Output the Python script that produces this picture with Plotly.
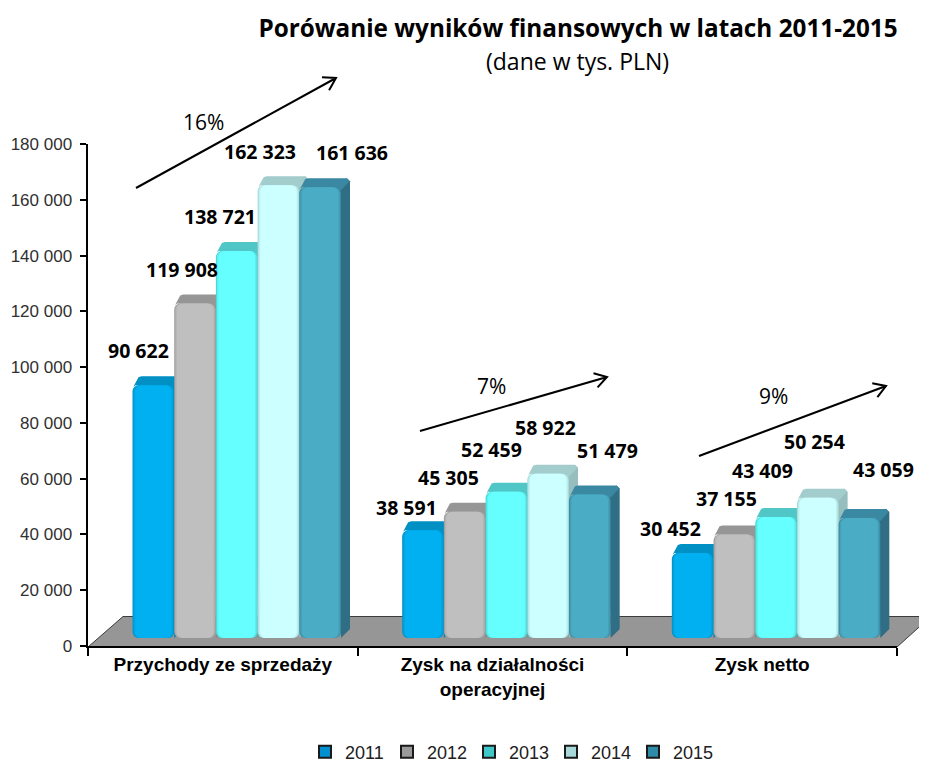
import math
import plotly.graph_objects as go

# ---- data ----
categories = ["Przychody ze sprzedaży", "Zysk na działalności<br>operacyjnej", "Zysk netto"]
years = ["2011", "2012", "2013", "2014", "2015"]
revenue = [90622, 119908, 138721, 162323, 161636]
operating = [38591, 45305, 52459, 58922, 51479]
net = [30452, 37155, 43409, 50254, 43059]
groups = [revenue, operating, net]
y_ticks = [0, 20000, 40000, 60000, 80000, 100000, 120000, 140000, 160000, 180000]
y_tick_labels = ["0", "20 000", "40 000", "60 000", "80 000", "100 000", "120 000", "140 000", "160 000", "180 000"]
growth_labels = ["16%", "7%", "9%"]

# ---- styling ----
main_col = ["#00B0F0", "#BFBFBF", "#66FFFF", "#CCFFFF", "#4BACC6"]
mid_col = ["#00A4E0", "#B4B4B4", "#5CF0F0", "#BEF0F0", "#45A0B8"]
edge_col = ["#0094CC", "#A0A0A0", "#4FD8D8", "#A8DCDC", "#3C8CA4"]
cap_col = ["#0090C4", "#969696", "#50C6C6", "#A3CCCC", "#3A88A2"]
side_col = ["#007FAE", "#868686", "#45ABAB", "#96BEBE", "#2F6E84"]
swatch_col = ["#0090D0", "#9A9A9A", "#40C8C8", "#A8D8D8", "#2E8CA8"]

PAGE = 8  # the page body's margin
W, H = 927 - PAGE, 755
L, R, T, B = 88 - PAGE, 897 - PAGE, 144 - PAGE, 646 - PAGE
PX_X = (R - L) / 3
PX_Y = (B - T) / 180000
bar_w = 41.7 / PX_X
group_off = 44.5 / PX_X
base = 8 / PX_Y
dx = 9 / PX_X
dy = 9 / PX_Y
cx = 3 / PX_X
cy = 3 / PX_Y

label_shift = [
    [(-15, 35), (-13, 34), (-17, 35), (-18, 34), (32, 35)],
    [(-17, 23), (-16, 34), (-15, 42), (-3, 46), (18, 44)],
    [(-22, 25), (-8, 36), (-14, 46), (-3, 56), (24, 48)],
]


def paper(px, py):
    """page pixel -> paper fraction"""
    return (px - PAGE - L) / (R - L), (B - (py - PAGE)) / (B - T)


def arrow_path(x0, y0, x1, y1, head=14):
    a = math.atan2(y1 - y0, x1 - x0)
    pts = [(x1 - head * math.cos(a + s * 0.55), y1 - head * math.sin(a + s * 0.55)) for s in (1, -1)]
    c = [paper(*p) for p in ((x0, y0), (x1, y1), pts[0], pts[1])]
    return (f"M {c[0][0]} {c[0][1]} L {c[1][0]} {c[1][1]} "
            f"M {c[2][0]} {c[2][1]} L {c[1][0]} {c[1][1]} L {c[3][0]} {c[3][1]}")


fig = go.Figure()

# lower layer: tops and sides
for g, vals in enumerate(groups):
    for j, v in enumerate(vals):
        x0 = g + group_off + j * bar_w
        x1 = x0 + bar_w
        top = base + v
        fig.add_trace(go.Scatter(
            x=[x1 - cx, x1 + dx - cx, x1 + dx, x1 + dx, x1],
            y=[top, top + dy, top + dy - cy, base + dy, base],
            fill="toself", fillcolor=side_col[j], mode="lines", line=dict(width=0),
            hoverinfo="skip", showlegend=False, legendgroup=years[j]))
        fig.add_trace(go.Scatter(
            x=[x0 + cx * 0.3, x0 + dx - cx, x0 + dx, x1 + dx - cx, x1 + dx - cx * 0.2, x1, x0 + cx],
            y=[top - cy * 0.5, top + dy - cy * 0.3, top + dy, top + dy, top + dy - cy, top - cy, top],
            fill="toself", fillcolor=cap_col[j], mode="lines", line=dict(width=0),
            hoverinfo="skip", showlegend=False, legendgroup=years[j]))

# upper layer: front faces, built up so the edges read as rounded
for j, year in enumerate(years):
    xs = [g + group_off + (j + 0.5) * bar_w for g in range(3)]
    ys = [vals[j] for vals in groups]
    for width_px, col in ((41.7, edge_col[j]), (39.5, mid_col[j]), (36.5, main_col[j])):
        fig.add_trace(go.Bar(
            x=xs, y=ys, base=[base] * 3, width=width_px / PX_X,
            marker=dict(color=col, line=dict(width=0)),
            xaxis="x2", yaxis="y2", showlegend=False, name=year, legendgroup=year))

# legend entries
for j, year in enumerate(years):
    fig.add_trace(go.Scatter(
        x=[None], y=[None], mode="markers", name=year, legendgroup=year,
        marker=dict(symbol="square", size=12, color=swatch_col[j], line=dict(color="#1A1A1A", width=2))))

annotations = []
for g, vals in enumerate(groups):
    for j, v in enumerate(vals):
        sx, sy = label_shift[g][j]
        annotations.append(dict(
            x=g + group_off + (j + 0.5) * bar_w, y=base + v, xref="x", yref="y",
            text=f"{v:,}".replace(",", " "), showarrow=False, xshift=sx, yshift=sy,
            xanchor="center", yanchor="middle",
            font=dict(family="Open Sans", size=19.5, color="black", weight="bold")))

for txt, (px, py) in zip(growth_labels, [(203, 122), (491, 386), (773, 396)]):
    ax, ay = paper(px, py)
    annotations.append(dict(x=ax, y=ay, xref="paper", yref="paper", text=txt, showarrow=False,
                            xanchor="center", yanchor="middle",
                            font=dict(family="Open Sans", size=21, color="black")))

sx, sy = paper(577, 61)
annotations.append(dict(x=sx, y=sy, xref="paper", yref="paper", text="(dane w tys. PLN)", showarrow=False,
                        xanchor="center", yanchor="middle",
                        font=dict(family="Open Sans", size=23, color="black")))

floor = [paper(*p) for p in ((88, 647), (123, 616.5), (927, 616.5), (927, 620), (897, 647))]
floor_path = "M " + " L ".join(f"{a} {b}" for a, b in floor) + " Z"
shapes = [dict(type="path", path=floor_path, xref="paper", yref="paper", layer="below",
               fillcolor="#969696", line=dict(color="#3C3C3C", width=1))]
for a in ((136, 188, 336, 78), (420, 431, 607, 377), (699, 456, 886, 386)):
    shapes.append(dict(type="path", path=arrow_path(*a), xref="paper", yref="paper",
                       line=dict(color="black", width=2)))

fig.update_layout(
    width=W, height=H, autosize=False,
    margin=dict(l=L, r=W - R, t=T, b=H - B),
    paper_bgcolor="white", plot_bgcolor="white",
    barmode="overlay", barcornerradius=6,
    title=dict(text="<b>Porówanie wyników finansowych w latach 2011-2015</b>",
               x=(578 - PAGE) / W, xanchor="center", xref="container",
               y=1 - (28 - PAGE) / H, yanchor="middle", yref="container",
               font=dict(family="Open Sans", size=24.3, color="black")),
    xaxis=dict(range=[0, 3], tickvals=[0.5, 1.5, 2.5], ticktext=[f"<b>{c}</b>" for c in categories],
               ticks="", showgrid=False, zeroline=False, showline=True, linecolor="black", linewidth=2,
               automargin=False,
               tickfont=dict(family="Liberation Sans", size=19, color="black"),
               minor=dict(tickvals=[0, 1, 2, 3], ticks="outside", ticklen=8, tickcolor="black", tickwidth=1.5)),
    yaxis=dict(range=[0, 180000], tickvals=y_ticks, ticktext=[t + "\u00a0" for t in y_tick_labels], ticks="outside",
               ticklen=6, tickcolor="black", tickwidth=1.5, showgrid=False, zeroline=False,
               showline=True, linecolor="black", linewidth=1.5, automargin=False,
               tickfont=dict(family="Liberation Sans", size=17, color="#303030")),
    xaxis2=dict(range=[0, 3], overlaying="x", visible=False, automargin=False),
    yaxis2=dict(range=[0, 180000], overlaying="y", visible=False, automargin=False),
    legend=dict(orientation="h", xref="container", yref="container",
                x=(305 - PAGE) / W, xanchor="left",
                y=1 - (752 - PAGE) / H, yanchor="middle",
                font=dict(family="Liberation Sans", size=18, color="#202020"),
                itemwidth=30, entrywidth=37, entrywidthmode="pixels", bgcolor="rgba(0,0,0,0)"),
    annotations=annotations, shapes=shapes,
)

fig.write_html("out.html")
